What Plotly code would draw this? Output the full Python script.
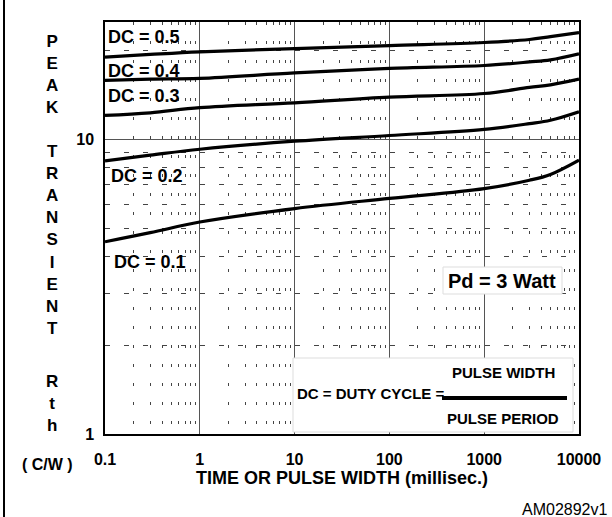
import plotly.graph_objects as go
import math

# ---- data ----
times = [0.1, 0.3, 1, 10, 100, 1000, 3000, 5000, 10000]
dc05 = [19.0, 19.4, 19.8, 20.3, 20.8, 21.3, 21.8, 22.3, 23.0]
dc04 = [15.85, 16.0, 16.1, 16.8, 17.4, 17.8, 18.3, 18.6, 19.5]
dc03 = [12.06, 12.3, 12.8, 13.3, 13.9, 14.3, 15.0, 15.3, 16.0]
dc02 = [8.45, 8.83, 9.25, 9.85, 10.3, 10.8, 11.3, 11.6, 12.4]
dc01 = [4.49, 4.82, 5.24, 5.82, 6.3, 6.8, 7.26, 7.6, 8.5]
series_names = ["DC = 0.5", "DC = 0.4", "DC = 0.3", "DC = 0.2", "DC = 0.1"]
x_tickvals = [0.1, 1, 10, 100, 1000, 10000]
x_ticktext = ["0.1", "1", "10", "100", "1000", "10000"]
y_tickvals = [1, 10]
y_ticktext = ["1", "10"]

W, H = 612, 517
L, R, T, B = 105, 33, 22, 83
PW, PH = W - L - R, H - T - B

def px(x, y):
    return (x - L) / PW, (H - B - y) / PH

fig = go.Figure()
for name, vals in zip(series_names, [dc05, dc04, dc03, dc02, dc01]):
    fig.add_trace(go.Scatter(x=times, y=vals, mode="lines", name=name,
                             line=dict(color="black", width=3.2, shape="spline"),
                             showlegend=False, hoverinfo="skip"))

BOLD = dict(family="Liberation Sans, Arial", color="black", weight="bold")

def ann(text, x, y, size, xanchor="center", weight="bold"):
    xp, yp = px(x, y)
    f = dict(family="Liberation Sans, Arial", color="black", size=size, weight=weight)
    fig.add_annotation(text=text, x=xp, y=yp, xref="paper", yref="paper",
                       xanchor=xanchor, yanchor="middle", showarrow=False, font=f)

# DC labels
ann("DC = 0.5", 106, 37, 18, "left")
ann("DC = 0.4", 106, 71, 18, "left")
ann("DC = 0.3", 106, 96, 18, "left")
ann("DC = 0.2", 109, 176, 18, "left")
ann("DC = 0.1", 112, 262, 18, "left")

# Pd box
x0, y0 = px(443, 267); x1, y1 = px(562, 294)
fig.add_shape(type="rect", xref="paper", yref="paper", x0=x0, y0=y0, x1=x1, y1=y1,
              fillcolor="white", line=dict(color="#dddddd", width=1), layer="above")
ann("Pd = 3 Watt", 502, 281, 20)

# duty cycle box
x0, y0 = px(293, 358); x1, y1 = px(573, 432)
fig.add_shape(type="rect", xref="paper", yref="paper", x0=x0, y0=y0, x1=x1, y1=y1,
              fillcolor="white", line=dict(color="#dddddd", width=1), layer="above")
x0, y0 = px(442, 398); x1, _ = px(567, 398)
fig.add_shape(type="line", xref="paper", yref="paper", x0=x0, y0=y0, x1=x1, y1=y0,
              line=dict(color="black", width=4), layer="above")
ann("DC = DUTY CYCLE =", 295, 393, 15, "left")
ann("PULSE WIDTH", 503, 372, 15)
ann("PULSE PERIOD", 503, 418, 15)

# y-axis title (stacked letters)
ann("P<br>E<br>A<br>K", 52, 74, 17)
ann("T<br>R<br>A<br>N<br>S<br>I<br>E<br>N<br>T", 52, 240, 17)
ann("R<br>t<br>h", 52, 403, 17)
ann("( C/W )", 47, 464, 16)

# footer id
ann("AM02892v1", 609, 510, 16, "right", weight="normal")

# left outer frame line
xa, ya = px(4, 0); _, yb = px(4, H)
fig.add_shape(type="line", xref="paper", yref="paper", x0=xa, y0=ya, x1=xa, y1=yb,
              line=dict(color="black", width=2))

fig.update_layout(
    width=W, height=H,
    margin=dict(l=L, r=R, t=T, b=B),
    paper_bgcolor="white", plot_bgcolor="white",
    hovermode=False,
    xaxis=dict(type="log", range=[-1, 4], tickvals=x_tickvals, ticktext=x_ticktext,
               showline=True, mirror=True, linecolor="black", linewidth=1.5,
               showgrid=True, gridcolor="#555555", gridwidth=1, ticks="",
               ticklabelstandoff=10, tickfont=dict(size=16, **BOLD),
               title=dict(text="TIME OR PULSE WIDTH (millisec.)", font=dict(size=18, **BOLD),
                          standoff=4),
               minor=dict(dtick="D1", showgrid=True, gridcolor="#444444", gridwidth=1,
                          griddash="3px,16px", ticks=""),
               zeroline=False, automargin=False),
    yaxis=dict(type="log", range=[0, math.log10(25)], tickvals=y_tickvals, ticktext=y_ticktext,
               showline=True, mirror=True, linecolor="black", linewidth=1.5,
               showgrid=True, gridcolor="#555555", gridwidth=1, ticks="",
               ticklabelstandoff=6, tickfont=dict(size=16, **BOLD),
               minor=dict(dtick="D1", showgrid=True, gridcolor="#444444", gridwidth=1,
                          griddash="5px,14px", ticks=""),
               zeroline=False, automargin=False),
)

fig.write_html("out.html", config={"displayModeBar": False},
               post_script="document.body.style.margin='0';document.body.style.overflow='hidden';")
